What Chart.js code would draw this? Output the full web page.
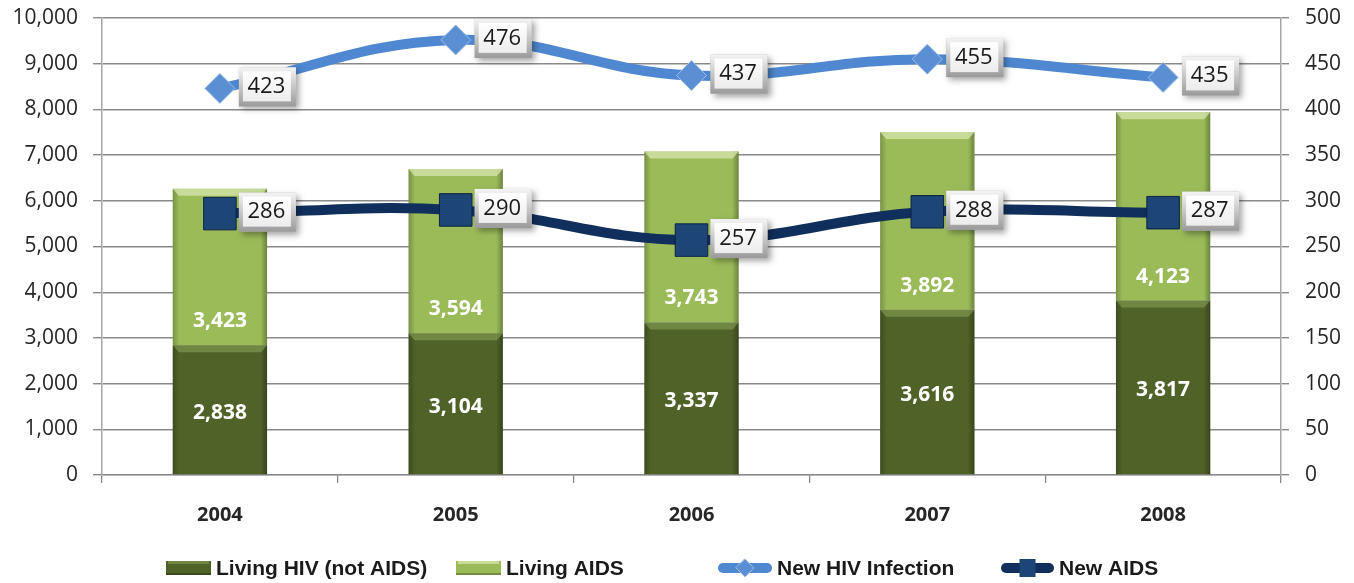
<!DOCTYPE html>
<html>
<head>
<meta charset="utf-8">
<script src="https://cdn.jsdelivr.net/npm/chart.js@4.4.1/dist/chart.umd.min.js"></script>
<style>
  html, body { margin: 0; padding: 0; background: #fff; }
  #wrap { width: 1354px; height: 583px; }
</style>
</head>
<body>
<div id="wrap"><canvas id="chart" width="1354" height="583"></canvas></div>
<script>
'use strict';

// Data
var years = ['2004', '2005', '2006', '2007', '2008'];
var livingHiv = [2838, 3104, 3337, 3616, 3817];
var livingAids = [3423, 3594, 3743, 3892, 4123];
var newHiv = [423, 476, 437, 455, 435];
var newAids = [286, 290, 257, 288, 287];

// Axis ranges / tick steps
var leftMax = 10000, leftStep = 1000;
var rightMax = 500, rightStep = 50;

var TICK_FONT = { family: '"Open Sans", sans-serif', size: 21 };
var AXIS_GREY = '#8a8a8a';

function fmt(v) {
  return Number(v).toLocaleString('en-US');
}


// Bevel shading on top of the stacked bars
//
var bevelTop = ['rgba(140,165,90,0.55)', 'rgba(215,230,175,0.75)'];

var barBevel = {
  id: 'barBevel',
  afterDatasetDraw: function(chart, args) {
    if (args.meta.type !== 'bar') return;
    var ctx = chart.ctx;
    ctx.save();
    args.meta.data.forEach(function(bar) {
      var p = bar.getProps(['x', 'y', 'base', 'width'], true);
      var left = p.x - p.width / 2, right = p.x + p.width / 2;
      var top = Math.min(p.y, p.base), bottom = Math.max(p.y, p.base);
      var g = ctx.createLinearGradient(left, 0, right, 0);
      g.addColorStop(0, 'rgba(0,0,0,0.22)');
      g.addColorStop(0.07, 'rgba(0,0,0,0)');
      g.addColorStop(0.93, 'rgba(0,0,0,0)');
      g.addColorStop(1, 'rgba(0,0,0,0.30)');
      ctx.fillStyle = g;
      ctx.fillRect(left, top, p.width, bottom - top);
      ctx.fillStyle = bevelTop[args.index] || 'rgba(255,255,255,0.3)';
      ctx.beginPath();
      ctx.moveTo(left, top);
      ctx.lineTo(right, top);
      ctx.lineTo(right - 6, top + 7);
      ctx.lineTo(left + 6, top + 7);
      ctx.closePath();
      ctx.fill();
    });
    ctx.restore();
  }
};


// Value labels: white text in bars, boxed labels beside line points
//
var valueLabels = {
  id: 'valueLabels',
  afterDatasetsDraw: function(chart) {
    var ctx = chart.ctx;
    ctx.save();
    ctx.textAlign = 'center';
    ctx.textBaseline = 'middle';

    chart.data.datasets.forEach(function(ds, i) {
      var meta = chart.getDatasetMeta(i);
      if (meta.type !== 'bar') return;
      ctx.font = 'bold 21px "Open Sans", sans-serif';
      ctx.fillStyle = '#ffffff';
      meta.data.forEach(function(bar, j) {
        var p = bar.getProps(['x', 'y', 'base'], true);
        var ty = i === 0 ? (p.y + p.base) / 2 + 3 : p.base - 24;
        ctx.fillText(fmt(ds.data[j]), p.x, ty);
      });
    });

    chart.data.datasets.forEach(function(ds, i) {
      var meta = chart.getDatasetMeta(i);
      if (meta.type !== 'line') return;
      meta.data.forEach(function(pt, j) {
        var bx = pt.x + 19, by = pt.y - 21, bw = 57, bh = 39;
        // shadow + bevel frame
        ctx.save();
        ctx.shadowColor = 'rgba(0,0,0,0.35)';
        ctx.shadowBlur = 6;
        ctx.shadowOffsetX = 3;
        ctx.shadowOffsetY = 3;
        ctx.fillStyle = '#b8b8b8';
        ctx.fillRect(bx, by, bw, bh);
        ctx.restore();
        var fg = ctx.createLinearGradient(0, by, 0, by + bh);
        fg.addColorStop(0, '#f4f4f4');
        fg.addColorStop(1, '#9a9a9a');
        ctx.fillStyle = fg;
        ctx.fillRect(bx, by, bw, bh);
        var ig = ctx.createLinearGradient(0, by + 4, 0, by + bh - 5);
        ig.addColorStop(0, '#ffffff');
        ig.addColorStop(1, '#ececec');
        ctx.fillStyle = ig;
        ctx.fillRect(bx + 4, by + 4, bw - 9, bh - 9);
        ctx.font = '22px "Open Sans", sans-serif';
        ctx.fillStyle = '#1a1a1a';
        ctx.fillText(fmt(ds.data[j]), bx + bw / 2 - 1, by + bh / 2);
      });
    });
    ctx.restore();
  }
};


// Legend along the bottom, drawn by hand to get Excel-like icons
//
var legendItems = [
  { text: 'Living HIV (not AIDS)', kind: 'bar', color: '#4f6228', bevel: 0, x: 166, w: 45 },
  { text: 'Living AIDS', kind: 'bar', color: '#9bbb59', bevel: 1, x: 456, w: 45 },
  { text: 'New HIV Infection', kind: 'diamond', color: '#4f88d0', x: 718, w: 54 },
  { text: 'New AIDS', kind: 'square', color: '#102f5c', x: 1001, w: 53 }
];

var bottomLegend = {
  id: 'bottomLegend',
  afterDraw: function(chart) {
    var ctx = chart.ctx;
    var cy = 568;
    ctx.save();
    legendItems.forEach(function(it) {
      if (it.kind === 'bar') {
        ctx.fillStyle = it.color;
        ctx.fillRect(it.x, cy - 7, it.w, 14);
        ctx.fillStyle = bevelTop[it.bevel];
        ctx.fillRect(it.x + 2, cy - 7, it.w - 4, 3);
        ctx.fillStyle = 'rgba(0,0,0,0.25)';
        ctx.fillRect(it.x, cy + 5, it.w, 2);
      } else {
        ctx.strokeStyle = it.color;
        ctx.lineWidth = 10;
        ctx.lineCap = 'round';
        ctx.beginPath();
        ctx.moveTo(it.x + 5, cy);
        ctx.lineTo(it.x + it.w - 5, cy);
        ctx.stroke();
        var mx = it.x + it.w / 2;
        if (it.kind === 'diamond') {
          ctx.fillStyle = '#5b8fd3';
          ctx.strokeStyle = '#9dbce6';
          ctx.lineWidth = 1;
          ctx.beginPath();
          ctx.moveTo(mx, cy - 9);
          ctx.lineTo(mx + 9, cy);
          ctx.lineTo(mx, cy + 9);
          ctx.lineTo(mx - 9, cy);
          ctx.closePath();
          ctx.fill();
          ctx.stroke();
        } else {
          ctx.fillStyle = '#1d4677';
          ctx.fillRect(mx - 8, cy - 9, 16, 18);
        }
      }
      ctx.font = 'bold 21px "Liberation Sans", sans-serif';
      ctx.fillStyle = '#1a1a1a';
      ctx.textAlign = 'left';
      ctx.textBaseline = 'middle';
      ctx.fillText(it.text, it.x + it.w + 5, cy + 1);
    });
    ctx.restore();
  }
};


// keep the tick labels from pushing the plot area down
function noVerticalPadding(s) {
  s.paddingTop = 0;
  s.paddingBottom = 0;
}

new Chart(document.getElementById('chart'), {
  type: 'bar',
  data: {
    labels: years,
    datasets: [
      {
        label: 'Living HIV (not AIDS)',
        data: livingHiv,
        backgroundColor: '#4f6228',
        yAxisID: 'y',
        order: 2,
        barPercentage: 0.4,
        categoryPercentage: 1
      },
      {
        label: 'Living AIDS',
        data: livingAids,
        backgroundColor: '#9bbb59',
        yAxisID: 'y',
        order: 2,
        barPercentage: 0.4,
        categoryPercentage: 1
      },
      {
        type: 'line',
        label: 'New HIV Infection',
        data: newHiv,
        yAxisID: 'y1',
        order: 1,
        borderColor: '#4f88d0',
        borderWidth: 10,
        tension: 0.4,
        pointStyle: 'rectRot',
        pointRadius: 15,
        pointBackgroundColor: '#5b8fd3',
        pointBorderColor: '#9dbce6',
        pointBorderWidth: 1
      },
      {
        type: 'line',
        label: 'New AIDS',
        data: newAids,
        yAxisID: 'y1',
        order: 0,
        borderColor: '#102f5c',
        borderWidth: 10,
        tension: 0.4,
        pointStyle: 'rect',
        pointRadius: 23,
        pointBackgroundColor: '#1d4677',
        pointBorderColor: '#0b2345',
        pointBorderWidth: 1
      }
    ]
  },
  options: {
    responsive: false,
    animation: false,
    layout: { autoPadding: false, padding: { top: 18, bottom: 48, left: 0, right: 0 } },
    plugins: {
      legend: { display: false },
      tooltip: { enabled: false }
    },
    scales: {
      x: {
        stacked: true,
        grid: { drawOnChartArea: false, tickLength: 8, color: AXIS_GREY, lineWidth: 1.3 },
        border: { color: AXIS_GREY, width: 1.3 },
        ticks: {
          font: { family: '"Open Sans", sans-serif', size: 20, weight: 'bold' },
          color: '#262626',
          padding: 20
        },
        afterFit: function(s) { s.height = 60; }
      },
      y: {
        stacked: true,
        min: 0,
        max: leftMax,
        grid: { color: AXIS_GREY, lineWidth: 1.4, tickLength: 9 },
        border: { color: '#a6a6a6', width: 1.5 },
        ticks: {
          stepSize: leftStep,
          font: TICK_FONT,
          color: '#262626',
          padding: 15,
          callback: function(v) { return fmt(v); }
        },
        afterFit: function(s) { s.width = 102; noVerticalPadding(s); }
      },
      y1: {
        position: 'right',
        min: 0,
        max: rightMax,
        grid: { drawOnChartArea: false, tickLength: 8, color: AXIS_GREY, lineWidth: 1.4 },
        border: { color: '#a6a6a6', width: 1.5 },
        ticks: {
          stepSize: rightStep,
          font: TICK_FONT,
          color: '#262626',
          padding: 16
        },
        afterFit: function(s) { s.width = 73; noVerticalPadding(s); }
      }
    }
  },
  plugins: [barBevel, valueLabels, bottomLegend]
});
</script>
</body>
</html>
